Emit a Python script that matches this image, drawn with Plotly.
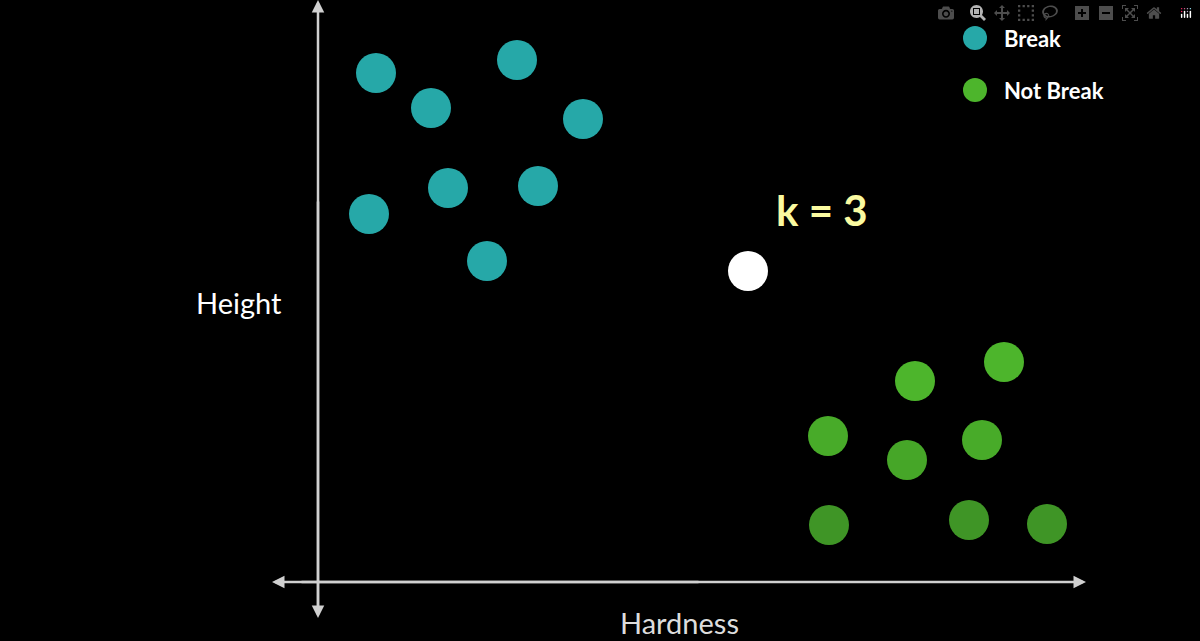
import plotly.graph_objects as go

break_x = [376, 517, 431, 583, 448, 538, 369, 487]
break_y = [73, 60, 108, 119, 188, 186, 214, 261]
nb_x = [1004, 915, 828, 982, 907, 829, 969, 1047]
nb_y = [362, 381, 436, 440, 460, 525, 520, 524]
nb_colors = ["#4db52c", "#4db52c", "#48ab29", "#48ab29", "#46a628", "#3f9526", "#3f9526", "#3f9526"]
query_x = [748]
query_y = [271]

fig = go.Figure()
fig.add_trace(go.Scatter(x=break_x, y=break_y, mode="markers",
                         marker=dict(size=40, color="#26a8a8"), showlegend=False))
fig.add_trace(go.Scatter(x=nb_x, y=nb_y, mode="markers",
                         marker=dict(size=40, color=nb_colors), showlegend=False))
fig.add_trace(go.Scatter(x=query_x, y=query_y, mode="markers",
                         marker=dict(size=40, color="white"), showlegend=False))
fig.add_trace(go.Scatter(x=[975, 975], y=[38, 90], mode="markers",
                         marker=dict(size=24, color=["#26a8a8", "#4db52c"]), showlegend=False))

ax = "#d0d0d0"
fig.add_annotation(x=318, y=0, ax=318, ay=612, xref="x", yref="y", axref="x", ayref="y",
                   showarrow=True, arrowhead=2, arrowsize=1, arrowwidth=2.5, arrowcolor=ax, text="")
fig.add_annotation(x=318, y=618, ax=318, ay=200, xref="x", yref="y", axref="x", ayref="y",
                   showarrow=True, arrowhead=2, arrowsize=1, arrowwidth=2.5, arrowcolor=ax, text="")
fig.add_annotation(x=1086, y=582, ax=300, ay=582, xref="x", yref="y", axref="x", ayref="y",
                   showarrow=True, arrowhead=2, arrowsize=1, arrowwidth=2.5, arrowcolor=ax, text="")
fig.add_annotation(x=272, y=582, ax=700, ay=582, xref="x", yref="y", axref="x", ayref="y",
                   showarrow=True, arrowhead=2, arrowsize=1, arrowwidth=2.5, arrowcolor=ax, text="")

fig.add_annotation(x=239, y=302, text="Height", showarrow=False, font=dict(size=29, color="white", family="Lato"))
fig.add_annotation(x=679, y=622, text="Hardness", showarrow=False, font=dict(size=29, color="#dddddd", family="Lato"))
fig.add_annotation(x=822, y=210, text="<b>k = 3</b>", showarrow=False, font=dict(size=42, color="#fafaa0", family="Lato"))
fig.add_annotation(x=1002, y=38, text="<b>Break</b>", xanchor="left", showarrow=False, font=dict(size=22, color="white", family="Lato"))
fig.add_annotation(x=1002, y=90, text="<b>Not Break</b>", xanchor="left", showarrow=False, font=dict(size=22, color="white", family="Lato"))

fig.update_xaxes(range=[0, 1200], visible=False)
fig.update_yaxes(range=[641, 0], visible=False)
fig.update_layout(width=1200, height=641, margin=dict(l=0, r=0, t=0, b=0),
                  paper_bgcolor="black", plot_bgcolor="black")
fig.write_html("out.html", post_script="document.body.style.margin='0';document.body.style.overflow='hidden';document.body.style.background='black';")
